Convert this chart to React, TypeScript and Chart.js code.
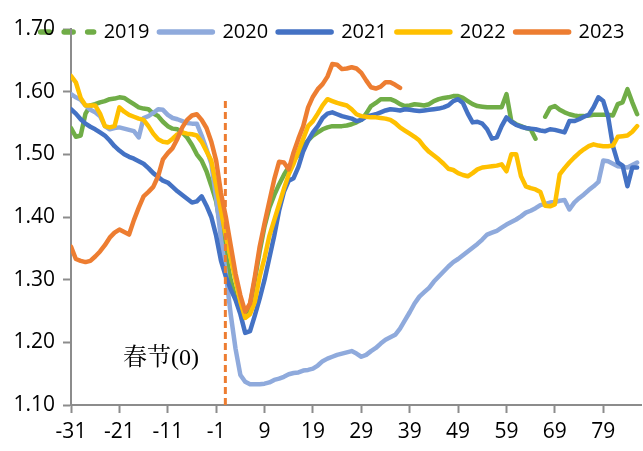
import React, { useEffect, useRef } from 'react';
import { Chart, registerables } from 'chart.js';

Chart.register(...registerables);

// Days relative to the Spring Festival (day 0)
const days = [
  -31, -30, -29, -28, -27, -26, -25, -24, -23, -22,
  -21, -20, -19, -18, -17, -16, -15, -14, -13, -12,
  -11, -10, -9, -8, -7, -6, -5, -4, -3, -2,
  -1, 0, 1, 2, 3, 4, 5, 6, 7, 8,
  9, 10, 11, 12, 13, 14, 15, 16, 17, 18,
  19, 20, 21, 22, 23, 24, 25, 26, 27, 28,
  29, 30, 31, 32, 33, 34, 35, 36, 37, 38,
  39, 40, 41, 42, 43, 44, 45, 46, 47, 48,
  49, 50, 51, 52, 53, 54, 55, 56, 57, 58,
  59, 60, 61, 62, 63, 64, 65, 66, 67, 68,
  69, 70, 71, 72, 73, 74, 75, 76, 77, 78,
  79, 80, 81, 82, 83, 84, 85, 86,
];

const s2019 = [
  1.542, 1.528, 1.53, 1.565, 1.578, 1.58, 1.583, 1.585, 1.588, 1.589,
  1.591, 1.59, 1.585, 1.58, 1.575, 1.573, 1.572, 1.565, 1.561, 1.552,
  1.545, 1.541, 1.54, 1.535, 1.527, 1.515, 1.50, 1.49, 1.473, 1.45,
  1.425, 1.38, 1.34, 1.30, 1.27, 1.25, 1.243, 1.26, 1.30, 1.345,
  1.385, 1.415, 1.435, 1.452, 1.467, 1.48, 1.49, 1.50, 1.513, 1.522,
  1.53, 1.535, 1.54, 1.543, 1.545, 1.545, 1.545, 1.546, 1.548, 1.551,
  1.555, 1.565, 1.577, 1.582, 1.588, 1.588, 1.588, 1.585, 1.58, 1.577,
  1.578, 1.58, 1.579, 1.578, 1.58, 1.585, 1.588, 1.59, 1.591, 1.593,
  1.593, 1.59, 1.585, 1.58, 1.577, 1.576, 1.575, 1.575, 1.575, 1.575,
  1.596, 1.553, 1.548, 1.545, 1.542, 1.54, 1.525, null, 1.56, 1.574,
  1.577, 1.571, 1.567, 1.564, 1.562, 1.561, 1.561, 1.562, 1.563, 1.563,
  1.563, 1.563, 1.562, 1.58, 1.583, 1.604, 1.583, 1.564,
];

const s2020 = [
  1.596, 1.591, 1.587, 1.578, 1.571, 1.567, 1.561, 1.545, 1.54, 1.542,
  1.543, 1.541, 1.539, 1.537, 1.527, 1.558, 1.561, 1.566, 1.572, 1.571,
  1.563, 1.558, 1.556, 1.553, 1.55, 1.549, 1.549, 1.53, 1.508, 1.485,
  1.43, 1.365, 1.31, 1.245, 1.19, 1.148, 1.137, 1.133, 1.133, 1.133,
  1.134, 1.136, 1.14, 1.142, 1.145, 1.149, 1.151, 1.152, 1.155, 1.156,
  1.158, 1.163, 1.17, 1.174, 1.177, 1.18, 1.182, 1.184, 1.186, 1.182,
  1.177, 1.18, 1.186, 1.191, 1.198, 1.204, 1.208, 1.212, 1.222, 1.235,
  1.248, 1.262, 1.273, 1.28, 1.287, 1.297, 1.305, 1.313, 1.321, 1.328,
  1.333, 1.339, 1.345, 1.351, 1.357, 1.364, 1.372, 1.375, 1.378, 1.383,
  1.388, 1.392, 1.396, 1.401, 1.407, 1.41, 1.414, 1.419, 1.421, 1.423,
  1.424, 1.426, 1.427, 1.412, 1.423, 1.43, 1.436, 1.443, 1.449, 1.456,
  1.49, 1.489, 1.485, 1.481, 1.48, 1.479, 1.483, 1.487,
];

const s2021 = [
  1.572, 1.565, 1.556, 1.549, 1.544, 1.54, 1.535, 1.53, 1.522, 1.513,
  1.506, 1.5, 1.496, 1.493, 1.489, 1.485, 1.478, 1.47, 1.464, 1.458,
  1.455, 1.448, 1.441, 1.435, 1.429, 1.423, 1.425, 1.433, 1.418, 1.40,
  1.37, 1.33, 1.305, 1.285, 1.268, 1.245, 1.215, 1.218, 1.243, 1.27,
  1.30, 1.335, 1.37, 1.41, 1.44, 1.458, 1.462, 1.48, 1.505, 1.522,
  1.535, 1.545, 1.558, 1.565, 1.567, 1.564, 1.561, 1.559, 1.557, 1.553,
  1.555, 1.56, 1.562, 1.564, 1.567, 1.57, 1.572, 1.571, 1.57, 1.572,
  1.571, 1.57, 1.569, 1.57, 1.571, 1.572, 1.573, 1.575, 1.578, 1.585,
  1.588, 1.582, 1.565, 1.551, 1.552, 1.549, 1.54, 1.525, 1.527, 1.545,
  1.559, 1.552, 1.547, 1.544, 1.542, 1.541, 1.54, 1.538, 1.537, 1.54,
  1.539, 1.537, 1.535, 1.553, 1.553, 1.556, 1.56, 1.563, 1.575, 1.591,
  1.585, 1.56, 1.513, 1.487, 1.482, 1.449, 1.479, 1.479,
];

const s2022 = [
  1.625, 1.615, 1.59, 1.578, 1.578, 1.578, 1.565, 1.545, 1.543, 1.545,
  1.575, 1.568, 1.563, 1.56, 1.557, 1.555, 1.545, 1.533, 1.524, 1.52,
  1.519, 1.525, 1.532, 1.535, 1.533, 1.532, 1.53, 1.52, 1.505, 1.49,
  1.45, 1.41, 1.37, 1.335, 1.30, 1.265, 1.239, 1.245, 1.265, 1.305,
  1.335, 1.37, 1.395, 1.42, 1.445, 1.468, 1.485, 1.505, 1.525, 1.545,
  1.553, 1.565, 1.578, 1.588, 1.585, 1.582, 1.58, 1.578, 1.572, 1.564,
  1.561, 1.56, 1.559, 1.559, 1.558, 1.557, 1.555, 1.55, 1.543, 1.538,
  1.533, 1.528, 1.522, 1.512, 1.504, 1.498, 1.492, 1.485, 1.477, 1.475,
  1.47, 1.467, 1.465, 1.47, 1.476, 1.479, 1.48, 1.481, 1.482, 1.484,
  1.473, 1.50, 1.50, 1.465, 1.449, 1.446, 1.444, 1.44, 1.418, 1.417,
  1.42, 1.468, 1.478, 1.487, 1.495, 1.502, 1.508, 1.513, 1.516, 1.514,
  1.513, 1.513, 1.514, 1.528, 1.529, 1.53, 1.536, 1.545,
];

// 2023 data ends at day 37
const s2023 = [
  1.353, 1.333, 1.33, 1.328, 1.33, 1.337, 1.345, 1.355, 1.367, 1.375,
  1.38, 1.376, 1.372, 1.395, 1.415, 1.433, 1.44, 1.448, 1.465, 1.492,
  1.502, 1.51, 1.525, 1.543, 1.555, 1.562, 1.564, 1.555, 1.542, 1.52,
  1.49, 1.438, 1.40, 1.355, 1.31, 1.275, 1.249, 1.262, 1.305, 1.353,
  1.39, 1.425, 1.46, 1.488, 1.487, 1.476, 1.503, 1.525, 1.545, 1.575,
  1.592, 1.604, 1.612, 1.624, 1.644, 1.643, 1.636, 1.637, 1.639, 1.637,
  1.63, 1.618, 1.607, 1.605, 1.608, 1.615, 1.615, 1.611, 1.606,
];

const seriesLabels = ['2019', '2020', '2021', '2022', '2023'];
const seriesColors = ['#70AD47', '#8FAADC', '#4472C4', '#FFC000', '#ED7D31'];
const xTickValues = [-31, -21, -11, -1, 9, 19, 29, 39, 49, 59, 69, 79];
const yTickValues = [1.1, 1.2, 1.3, 1.4, 1.5, 1.6, 1.7];

// Spring Festival marker
const springDay = 0.9;
const springLineRange = [1.1, 1.59];
const springLabel = '春节(0)';
const springLabelAt = { x: -12.4, y: 1.174 };

const AXIS_GREY = '#8c8c8c';
const FONT = '"Open Sans", "Liberation Sans", sans-serif';

// Lets the legend overlap the top of the plot area (as in the original).
const legendOverlap = {
  id: 'legendOverlap',
  beforeLayout(chart: any) {
    const lg = chart.legend;
    if (lg && !lg.__patched) {
      const orig = lg.fit;
      lg.fit = function () {
        orig.call(this);
        this.height = Math.max(0, this.height - 23);
      };
      lg.__patched = true;
    }
  },
  afterLayout(chart: any) {
    const lg = chart.legend;
    if (lg) {
      lg.height += 23;
      lg.bottom += 23;
      lg.left += 14;
    }
  },
};

const springText = {
  id: 'springText',
  afterDraw(chart: any) {
    const { ctx, scales } = chart;
    ctx.save();
    ctx.font = '24px "Liberation Serif", "Noto Serif CJK SC", "Noto Sans CJK SC", serif';
    ctx.fillStyle = '#000';
    ctx.textAlign = 'center';
    ctx.textBaseline = 'middle';
    ctx.fillText(
      springLabel,
      scales.x.getPixelForValue(springLabelAt.x),
      scales.y.getPixelForValue(springLabelAt.y)
    );
    ctx.restore();
  },
};

export default function App() {
  const ref = useRef<HTMLCanvasElement>(null);

  useEffect(() => {
    if (!ref.current) return;
    const all = [s2019, s2020, s2021, s2022, s2023];
    const datasets: any[] = all.map((vals, i) => ({
      label: seriesLabels[i],
      data: vals.map((v, j) => ({ x: days[j], y: v })),
      borderColor: seriesColors[i],
      backgroundColor: seriesColors[i],
      borderWidth: 4.5,
      pointRadius: 0,
      pointHoverRadius: 0,
      borderCapStyle: 'round',
      borderJoinStyle: 'round',
      tension: 0,
      spanGaps: false,
      order: 5 - i,
    }));
    datasets.push({
      label: 'spring',
      data: springLineRange.map((v) => ({ x: springDay, y: v })),
      borderColor: '#ED7D31',
      borderWidth: 3,
      borderDash: [7, 4],
      pointRadius: 0,
      pointHoverRadius: 0,
      order: 0,
    });

    const chart = new Chart(ref.current, {
      type: 'line',
      data: { datasets },
      options: {
        animation: false,
        responsive: false,
        events: [],
        layout: { padding: { top: 12, left: 10, right: 2, bottom: 0 } },
        plugins: {
          tooltip: { enabled: false },
          legend: {
            display: true,
            position: 'top',
            align: 'center',
            labels: {
              usePointStyle: true,
              pointStyleWidth: 53,
              padding: 10,
              color: '#000',
              font: { family: FONT, size: 20 },
              generateLabels: (c: any) =>
                c.data.datasets.slice(0, 5).map((ds: any, i: number) => ({
                  text: ds.label,
                  fillStyle: ds.borderColor,
                  strokeStyle: ds.borderColor,
                  fontColor: '#000',
                  lineWidth: 5.5,
                  lineCap: 'round',
                  lineDash: i === 0 ? [9, 14.5] : [],
                  pointStyle: 'line',
                  hidden: false,
                  datasetIndex: i,
                })),
            },
          },
        },
        scales: {
          x: {
            type: 'linear',
            min: -31,
            max: 86.8,
            afterBuildTicks: (s: any) => {
              s.ticks = xTickValues.map((v) => ({ value: v }));
            },
            afterFit: (s: any) => {
              s.height = 46;
            },
            ticks: {
              autoSkip: false,
              maxRotation: 0,
              padding: 6,
              color: '#000',
              font: { family: FONT, size: 21 },
              callback: (v: any) => String(v),
            },
            grid: {
              display: true,
              drawOnChartArea: false,
              drawTicks: true,
              tickLength: 8,
              tickColor: AXIS_GREY,
              tickWidth: 2,
            },
            border: { display: true, color: AXIS_GREY, width: 2 },
          },
          y: {
            type: 'linear',
            min: 1.1,
            max: 1.7,
            afterBuildTicks: (s: any) => {
              s.ticks = yTickValues.map((v) => ({ value: v }));
            },
            afterFit: (s: any) => {
              s.width = 61;
            },
            ticks: {
              padding: 8,
              color: '#000',
              font: { family: FONT, size: 21 },
              callback: (v: any) => Number(v).toFixed(2),
            },
            grid: {
              display: true,
              drawOnChartArea: false,
              drawTicks: true,
              tickLength: 8,
              tickColor: AXIS_GREY,
              tickWidth: 2,
            },
            border: { display: true, color: AXIS_GREY, width: 2 },
          },
        },
      } as any,
      plugins: [legendOverlap, springText],
    });
    return () => chart.destroy();
  }, []);

  return (
    <div style={{ position: 'absolute', left: 0, top: 0, width: 643, height: 451, background: '#fff' }}>
      <canvas ref={ref} width={643} height={451} style={{ display: 'block' }} />
    </div>
  );
}
